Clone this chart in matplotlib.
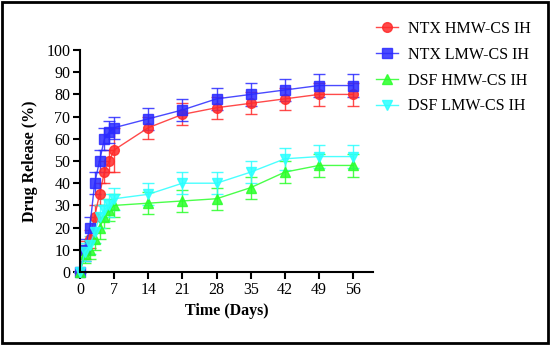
import matplotlib as mpl
mpl.use('agg')
import matplotlib.pyplot as plt
from matplotlib.lines import Line2D
import numpy as np

days = [0, 1, 2, 3, 4, 5, 6, 7, 14, 21, 28, 35, 42, 49, 56]
ntx_hmw = [0, 10, 15, 25, 35, 45, 50, 55, 65, 71, 74, 76, 78, 80, 80]
ntx_hmw_err = [0, 4, 4, 5, 5, 5, 5, 10, 5, 5, 5, 5, 5, 5, 5]
ntx_lmw = [0, 10, 20, 40, 50, 60, 63, 65, 69, 73, 78, 80, 82, 84, 84]
ntx_lmw_err = [0, 5, 5, 5, 5, 5, 5, 5, 5, 5, 5, 5, 5, 5, 5]
dsf_hmw = [0, 8, 10, 15, 20, 25, 28, 30, 31, 32, 33, 38, 45, 48, 48]
dsf_hmw_err = [0, 4, 4, 5, 5, 5, 5, 5, 5, 5, 5, 5, 5, 5, 5]
dsf_lmw = [0, 9, 12, 18, 25, 28, 30, 33, 35, 40, 40, 45, 51, 52, 52]
dsf_lmw_err = [0, 4, 4, 5, 5, 5, 5, 5, 5, 5, 5, 5, 5, 5, 5]

series = [
    ('NTX HMW-CS IH', ntx_hmw, ntx_hmw_err, '#ff2a2a', 'o'),
    ('NTX LMW-CS IH', ntx_lmw, ntx_lmw_err, '#2a2aff', 's'),
    ('DSF HMW-CS IH', dsf_hmw, dsf_hmw_err, '#2aff2a', '^'),
    ('DSF LMW-CS IH', dsf_lmw, dsf_lmw_err, '#2affff', 'v'),
]

plt.rcParams['font.family'] = 'Liberation Serif'

fig = plt.figure(figsize=(5.5, 3.45), dpi=100)
ax = fig.add_axes([0.1455, 0.2116, 0.532, 0.6434])

handles = []
for name, vals, err, col, mk in series:
    ax.errorbar(days, vals, yerr=err, color=col, marker=mk, markersize=7,
                linewidth=1, elinewidth=1, capsize=4, capthick=1,
                alpha=0.85, clip_on=False)
    handles.append(Line2D([], [], color=col, marker=mk, markersize=7,
                          linewidth=1, alpha=0.85, label=name))

ax.set_xlim(0, 60)
ax.set_ylim(0, 100)
ax.set_xticks(np.arange(0, 57, 7))
ax.set_yticks(np.arange(0, 101, 10))
ax.spines['top'].set_visible(False)
ax.spines['right'].set_visible(False)
ax.spines['left'].set_linewidth(1.5)
ax.spines['bottom'].set_linewidth(1.5)
ax.tick_params(direction='out', length=5, width=1.5, labelsize=11.5, pad=2)
ax.set_xlabel('Time (Days)', fontsize=11.5, fontweight='bold')
ax.set_ylabel('Drug Release (%)', fontsize=11.5, fontweight='bold', labelpad=6)

fig.legend(handles=handles, loc='upper left', bbox_to_anchor=(0.683, 0.94),
           bbox_transform=fig.transFigure, frameon=False, fontsize=11.5,
           handlelength=1.4, handletextpad=0.65, labelspacing=0.62,
           borderpad=0, borderaxespad=0)

fig.patches.append(plt.Rectangle((0.004, 0.006), 0.992, 0.988, transform=fig.transFigure,
                                 fill=False, edgecolor='black', linewidth=2))
fig.savefig('out.png', dpi=100)
